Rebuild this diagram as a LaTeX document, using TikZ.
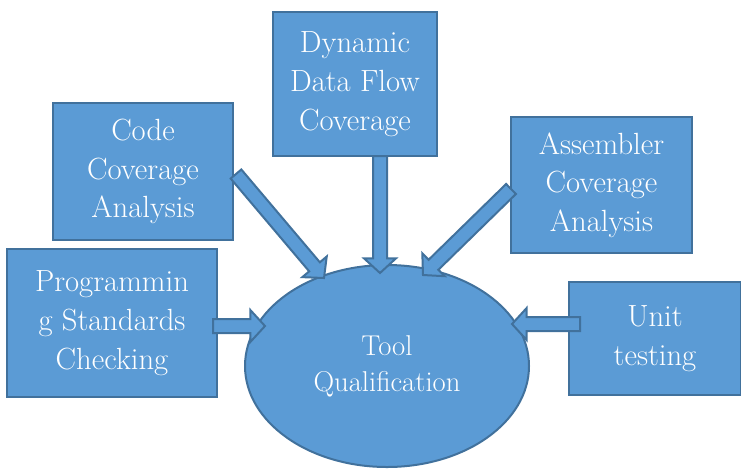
\documentclass[tikz,border=0pt]{standalone}
\usetikzlibrary{shapes.geometric,calc}
\definecolor{boxblue}{HTML}{5B9BD5}
\definecolor{boxedge}{HTML}{41719C}
\newcommand{\blockarrow}[2]{%
  \coordinate (neck) at ($(#2)!11pt!(#1)$);
  \filldraw[barrow] ($(#1)!5.25pt!-90:(neck)$) -- ($(neck)!5.25pt!90:(#1)$)
    -- ($(neck)!12pt!90:(#1)$) -- (#2) -- ($(neck)!12pt!-90:(#1)$)
    -- ($(neck)!5.25pt!-90:(#1)$) -- ($(#1)!5.25pt!90:(neck)$) -- cycle;}

\begin{document}
\begin{tikzpicture}[x=0.75pt, y=-0.75pt,
    box/.style={draw=boxedge, fill=boxblue, line width=1.5pt, text=white,
      align=center, inner sep=0pt, font=\fontsize{23}{29}\selectfont},
    barrow/.style={draw=boxedge, fill=boxblue, line width=1.5pt, line join=miter}]
        \useasboundingbox (0,0) rectangle (741,472);
        \node[ellipse, box, minimum width=213pt, minimum height=151.5pt,
          font=\fontsize{21.5}{27}\selectfont] (tool) at (387,366) {Tool\\Qualification};
        \node[box, minimum width=123pt, minimum height=108pt] (dyn) at (355,84) {Dynamic\\Data Flow\\Coverage};
        \node[box, minimum width=135pt, minimum height=102.75pt] (code) at (143,171.5) {Code\\Coverage\\Analysis};
        \node[box, minimum width=135.75pt, minimum height=102pt] (asm) at (601.5,185) {Assembler\\Coverage\\Analysis};
        \node[box, minimum width=157.5pt, minimum height=111pt] (prog) at (112,323) {Programmin\\g Standards\\Checking};
        \node[box, minimum width=129pt, minimum height=85pt] (unit) at (655,338.5) {Unit\\testing};
        \coordinate (codetail) at (236,174);
        \coordinate (codetip) at (324,278);
        \coordinate (dyntail) at (380,156);
        \coordinate (dyntip) at (380,273);
        \coordinate (asmtail) at (511,189);
        \coordinate (asmtip) at (423,275);
        \coordinate (progtail) at (213,326);
        \coordinate (progtip) at (265,326);
        \coordinate (unittail) at (580,324);
        \coordinate (unittip) at (512,324);
        \blockarrow{codetail}{codetip}
        \blockarrow{dyntail}{dyntip}
        \blockarrow{asmtail}{asmtip}
        \blockarrow{progtail}{progtip}
        \blockarrow{unittail}{unittip}
    \end{tikzpicture}
\end{document}
